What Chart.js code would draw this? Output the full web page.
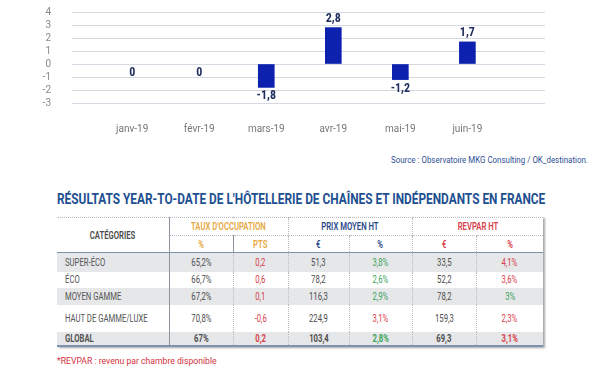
<!DOCTYPE html>
<html>
<head>
<meta charset="utf-8">
<script src="https://cdn.jsdelivr.net/npm/chart.js@4.4.0/dist/chart.umd.min.js"></script>
<style>
body { margin:0; width:600px; height:372px; background:#fff; position:relative; overflow:hidden; font-family:Roboto, sans-serif; }
#wrap { position:absolute; left:0; top:0; width:600px; height:140px; }
.fit { position:absolute; white-space:nowrap; transform-origin:0 50%; }
#source { top:154px; font-size:9.5px; color:#2f4f95; }
#title { left:57px; top:191px; font-size:14px; font-weight:bold; color:#1d4f91; }
#note { left:57px; top:355px; font-size:9.5px; color:#d4313d; }
table { position:absolute; left:57px; top:217px; width:486px; border-collapse:collapse; table-layout:fixed;
        font-size:11px; color:#4d4d4d; box-shadow:2px 1px 2px rgba(0,0,0,0.35); white-space:nowrap; }
th, td { padding:0; text-align:center; border-left:1px dotted #b9bcc2; }
th:first-child, td:first-child { border-left:none; border-right:1px solid #8f949c; }
td:first-child { text-align:left; padding-left:8px; }
thead tr:first-child th { border-top:1px dotted #b9bcc2; }
thead tr:nth-child(2) th { border-top:1px dotted #b9bcc2; }
thead tr:last-child th, th.cat { border-bottom:1px solid #7d93ad; }
tbody tr:last-child td { border-bottom:2px solid #7d93ad; font-weight:bold; }
tr.shade td { background:#e6e7e9; }
th { font-weight:600; }
.c { display:inline-block; transform:scaleX(0.7); transform-origin:50% 50%; }
td:first-child .c { transform-origin:0 50%; }
</style>
</head>
<body>
<div id="wrap"><canvas id="myBarChart" width="600" height="140"></canvas></div>
<div id="source" class="fit">Source : Observatoire MKG Consulting / OK_destination.</div>
<div id="title" class="fit">RÉSULTATS YEAR-TO-DATE DE L'HÔTELLERIE DE CHAÎNES ET INDÉPENDANTS EN FRANCE</div>
<table id="tab"></table>
<div id="note" class="fit">*REVPAR : revenu par chambre disponible</div>
<script>
// chart data
var months = ['janv-19', 'févr-19', 'mars-19', 'avr-19', 'mai-19', 'juin-19'];
var values = [0, 0, -1.8, 2.8, -1.2, 1.7];
var yTicks = [-3, -2, -1, 0, 1, 2, 3, 4];

// table data
var categories = ['SUPER-ÉCO', 'ÉCO', 'MOYEN GAMME', 'HAUT DE GAMME/LUXE', 'GLOBAL'];
var occPct = ['65,2%', '66,7%', '67,2%', '70,8%', '67%'];
var occPts = ['0,2', '0,6', '0,1', '-0,6', '0,2'];
var prixEur = ['51,3', '78,2', '116,3', '224,9', '103,4'];
var prixPct = ['3,8%', '2,6%', '2,9%', '3,1%', '2,8%'];
var revparEur = ['33,5', '52,2', '78,2', '159,3', '69,3'];
var revparPct = ['4,1%', '3,6%', '3%', '2,3%', '3,1%'];

var GREEN = '#3aa55c', RED = '#d8404a', GOLD = '#e6a83f', BLUE = '#2b4a8c', GREY = '#555';
var prixPctColor = [GREEN, GREEN, GREEN, RED, GREEN];
var revparPctColor = [RED, RED, GREEN, RED, RED];
var rowHeights = [19, 16, 17, 27, 14];

var valueLabels = {
    id: 'valueLabels',
    afterDatasetsDraw: function (chart) {
        var ctx = chart.ctx;
        ctx.save();
        ctx.font = 'bold 12px "Roboto Condensed", Roboto, sans-serif';
        ctx.fillStyle = '#1e2c5e';
        ctx.textAlign = 'center';
        chart.getDatasetMeta(0).data.forEach(function (bar, i) {
            var txt = String(values[i]).replace('.', ',');
            if (values[i] > 0) {
                ctx.textBaseline = 'bottom';
                ctx.fillText(txt, bar.x, bar.y - 3);
            } else {
                ctx.textBaseline = 'top';
                ctx.fillText(txt, bar.x, bar.y + 3);
            }
        });
        ctx.restore();
    }
};

var barChart = new Chart(document.getElementById('myBarChart').getContext('2d'), {
    type: 'bar',
    data: {
        datasets: [{
            data: values.map(function (v, i) { return { x: i, y: v }; }),
            backgroundColor: function (c) { return values[c.dataIndex] === 0 ? 'rgba(0,0,0,0)' : '#0c22ae'; },
            barThickness: 16
        }]
    },
    options: {
        responsive: false,
        animation: false,
        layout: { padding: { top: 12, right: 55, left: 0, bottom: 0 } },
        plugins: { legend: { display: false }, tooltip: { enabled: false } },
        scales: {
            x: {
                type: 'linear', min: -0.31, max: 5.57,
                grid: { display: false }, border: { display: false },
                afterBuildTicks: function (s) { s.ticks = months.map(function (m, i) { return { value: i }; }); },
                afterFit: function (s) { s.height = 37; },
                ticks: { padding: 12, autoSkip: false, maxRotation: 0, color: '#777',
                         font: { size: 10, family: 'Roboto' },
                         callback: function (v) { return months[v]; } }
            },
            y: {
                min: -3, max: 4,
                afterBuildTicks: function (s) { s.ticks = yTicks.map(function (v) { return { value: v }; }); },
                afterFit: function (s) { s.width = 72; s.paddingTop = 0; s.paddingBottom = 0; },
                grid: { color: '#d5d9e1', drawTicks: false },
                border: { display: false },
                ticks: { padding: 21, autoSkip: false, color: '#888', font: { size: 10, family: 'Roboto' } }
            }
        }
    },
    plugins: [valueLabels]
});

// table
function cell(tag, txt, color, attrs) {
    return '<' + tag + (attrs || '') + (color ? ' style="color:' + color + '"' : '') + '><span class="c">' + txt + '</span></' + tag + '>';
}
var html = '<colgroup><col style="width:112px"><col style="width:64px"><col style="width:55px"><col style="width:61px">' +
    '<col style="width:63px"><col style="width:64px"><col style="width:67px"></colgroup>';
html += '<thead><tr style="height:18px">' + cell('th', 'CATÉGORIES', '#4a4a4a', ' rowspan="2" class="cat"') +
    cell('th', "TAUX D'OCCUPATION", GOLD, ' colspan="2"') + cell('th', 'PRIX MOYEN HT', BLUE, ' colspan="2"') +
    cell('th', 'REVPAR HT', RED, ' colspan="2"') + '</tr>';
html += '<tr style="height:17px">' + cell('th', '%', GOLD) + cell('th', 'PTS', GOLD) + cell('th', '€', BLUE) +
    cell('th', '%', BLUE) + cell('th', '€', RED) + cell('th', '%', RED) + '</tr></thead><tbody>';
categories.forEach(function (c, i) {
    html += '<tr' + (i % 2 === 0 ? ' class="shade"' : '') + ' style="height:' + rowHeights[i] + 'px">' +
        cell('td', c, GREY) + cell('td', occPct[i], '#4d4d4d') + cell('td', occPts[i], RED) +
        cell('td', prixEur[i], '#4d4d4d') + cell('td', prixPct[i], prixPctColor[i]) +
        cell('td', revparEur[i], '#4d4d4d') + cell('td', revparPct[i], revparPctColor[i]) + '</tr>';
});
html += '</tbody>';
document.getElementById('tab').innerHTML = html;

// squeeze the condensed-looking texts into their widths
function fit(id, left, width) {
    var el = document.getElementById(id);
    el.style.left = left + 'px';
    el.style.transform = 'scaleX(' + (width / el.offsetWidth) + ')';
}
fit('source', 391, 197);
fit('title', 57, 488);
fit('note', 57, 160);
</script>
</body>
</html>
